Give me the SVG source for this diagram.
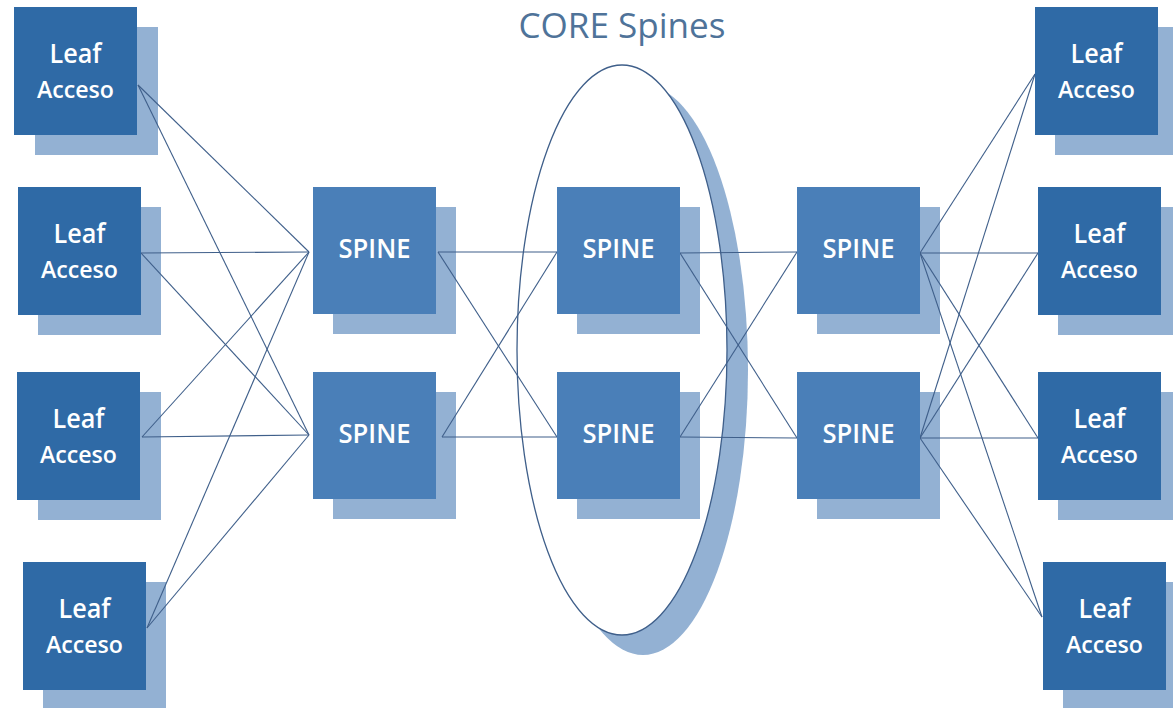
<svg xmlns="http://www.w3.org/2000/svg" width="1173" height="708" viewBox="0 0 1173 708">
<style>
.sh{fill:#93b1d3}
.leaf{fill:#2f6aa6}
.spine{fill:#4a7fb8}
.t{fill:#ffffff;font-family:"Open Sans","Liberation Sans",sans-serif;text-anchor:middle;font-weight:600}
.lf{font-size:27px}
.ac{font-size:23px}
.sp{font-size:27px}
.cn line{stroke:#3f5f8a;stroke-width:1.1}
</style>
<rect width="1173" height="708" fill="#ffffff"/>
<g id="core-group">
<ellipse cx="643" cy="370" rx="105" ry="285" fill="#93b1d3"/>
<ellipse cx="622" cy="350" rx="105" ry="285" fill="#ffffff" stroke="#3f5f8a" stroke-width="1.3"/>
<text x="622" y="38" font-family="'Open Sans','Liberation Sans',sans-serif" font-size="34" fill="#4f7399" text-anchor="middle" textLength="207" lengthAdjust="spacingAndGlyphs">CORE Spines</text>
</g>
<g id="node-shadows">
<rect class="sh" x="35" y="27" width="123" height="128"/>
<rect class="sh" x="38" y="207" width="123" height="128"/>
<rect class="sh" x="38" y="392" width="123" height="128"/>
<rect class="sh" x="43" y="582" width="123" height="128"/>
<rect class="sh" x="333" y="207" width="123" height="127"/>
<rect class="sh" x="333" y="392" width="123" height="127"/>
<rect class="sh" x="577" y="207" width="123" height="127"/>
<rect class="sh" x="577" y="392" width="123" height="127"/>
<rect class="sh" x="817" y="207" width="123" height="127"/>
<rect class="sh" x="817" y="392" width="123" height="127"/>
<rect class="sh" x="1055" y="27" width="123" height="128"/>
<rect class="sh" x="1058" y="207" width="123" height="128"/>
<rect class="sh" x="1058" y="392" width="123" height="128"/>
<rect class="sh" x="1063" y="582" width="123" height="128"/>
</g>
<g id="connectors" class="cn">
<line x1="138" y1="85" x2="309" y2="252"/>
<line x1="138" y1="85" x2="309" y2="435"/>
<line x1="141" y1="253" x2="309" y2="252"/>
<line x1="141" y1="253" x2="309" y2="435"/>
<line x1="142" y1="437" x2="309" y2="252"/>
<line x1="142" y1="437" x2="309" y2="435"/>
<line x1="147" y1="628" x2="309" y2="252"/>
<line x1="147" y1="628" x2="309" y2="435"/>
<line x1="438" y1="252" x2="557" y2="252"/>
<line x1="438" y1="252" x2="557" y2="437"/>
<line x1="442" y1="437" x2="557" y2="252"/>
<line x1="442" y1="437" x2="557" y2="437"/>
<line x1="680" y1="253" x2="797" y2="252"/>
<line x1="680" y1="253" x2="797" y2="438"/>
<line x1="680" y1="437" x2="797" y2="252"/>
<line x1="680" y1="437" x2="797" y2="438"/>
<line x1="920" y1="253" x2="1035" y2="74"/>
<line x1="920" y1="253" x2="1038" y2="253"/>
<line x1="920" y1="253" x2="1038" y2="438"/>
<line x1="920" y1="253" x2="1042" y2="617"/>
<line x1="920" y1="438" x2="1035" y2="74"/>
<line x1="920" y1="438" x2="1038" y2="253"/>
<line x1="920" y1="438" x2="1038" y2="438"/>
<line x1="920" y1="438" x2="1042" y2="617"/>
</g>
<g id="leaf-l1"><rect class="leaf" x="14" y="7" width="123" height="128"/><text class="t lf" x="75.5" y="63" textLength="52" lengthAdjust="spacingAndGlyphs">Leaf</text><text class="t ac" x="75.5" y="98" textLength="77" lengthAdjust="spacingAndGlyphs">Acceso</text></g>
<g id="leaf-l2"><rect class="leaf" x="18" y="187" width="123" height="128"/><text class="t lf" x="79.5" y="243" textLength="52" lengthAdjust="spacingAndGlyphs">Leaf</text><text class="t ac" x="79.5" y="278" textLength="77" lengthAdjust="spacingAndGlyphs">Acceso</text></g>
<g id="leaf-l3"><rect class="leaf" x="17" y="372" width="123" height="128"/><text class="t lf" x="78.5" y="428" textLength="52" lengthAdjust="spacingAndGlyphs">Leaf</text><text class="t ac" x="78.5" y="463" textLength="77" lengthAdjust="spacingAndGlyphs">Acceso</text></g>
<g id="leaf-l4"><rect class="leaf" x="23" y="562" width="123" height="128"/><text class="t lf" x="84.5" y="618" textLength="52" lengthAdjust="spacingAndGlyphs">Leaf</text><text class="t ac" x="84.5" y="653" textLength="77" lengthAdjust="spacingAndGlyphs">Acceso</text></g>
<g id="spine-l1"><rect class="spine" x="313" y="187" width="123" height="127"/><text class="t sp" x="374.5" y="258" textLength="72" lengthAdjust="spacingAndGlyphs">SPINE</text></g>
<g id="spine-l2"><rect class="spine" x="313" y="372" width="123" height="127"/><text class="t sp" x="374.5" y="443" textLength="72" lengthAdjust="spacingAndGlyphs">SPINE</text></g>
<g id="spine-c1"><rect class="spine" x="557" y="187" width="123" height="127"/><text class="t sp" x="618.5" y="258" textLength="72" lengthAdjust="spacingAndGlyphs">SPINE</text></g>
<g id="spine-c2"><rect class="spine" x="557" y="372" width="123" height="127"/><text class="t sp" x="618.5" y="443" textLength="72" lengthAdjust="spacingAndGlyphs">SPINE</text></g>
<g id="spine-r1"><rect class="spine" x="797" y="187" width="123" height="127"/><text class="t sp" x="858.5" y="258" textLength="72" lengthAdjust="spacingAndGlyphs">SPINE</text></g>
<g id="spine-r2"><rect class="spine" x="797" y="372" width="123" height="127"/><text class="t sp" x="858.5" y="443" textLength="72" lengthAdjust="spacingAndGlyphs">SPINE</text></g>
<g id="leaf-r1"><rect class="leaf" x="1035" y="7" width="123" height="128"/><text class="t lf" x="1096.5" y="63" textLength="52" lengthAdjust="spacingAndGlyphs">Leaf</text><text class="t ac" x="1096.5" y="98" textLength="77" lengthAdjust="spacingAndGlyphs">Acceso</text></g>
<g id="leaf-r2"><rect class="leaf" x="1038" y="187" width="123" height="128"/><text class="t lf" x="1099.5" y="243" textLength="52" lengthAdjust="spacingAndGlyphs">Leaf</text><text class="t ac" x="1099.5" y="278" textLength="77" lengthAdjust="spacingAndGlyphs">Acceso</text></g>
<g id="leaf-r3"><rect class="leaf" x="1038" y="372" width="123" height="128"/><text class="t lf" x="1099.5" y="428" textLength="52" lengthAdjust="spacingAndGlyphs">Leaf</text><text class="t ac" x="1099.5" y="463" textLength="77" lengthAdjust="spacingAndGlyphs">Acceso</text></g>
<g id="leaf-r4"><rect class="leaf" x="1043" y="562" width="123" height="128"/><text class="t lf" x="1104.5" y="618" textLength="52" lengthAdjust="spacingAndGlyphs">Leaf</text><text class="t ac" x="1104.5" y="653" textLength="77" lengthAdjust="spacingAndGlyphs">Acceso</text></g>
</svg>
